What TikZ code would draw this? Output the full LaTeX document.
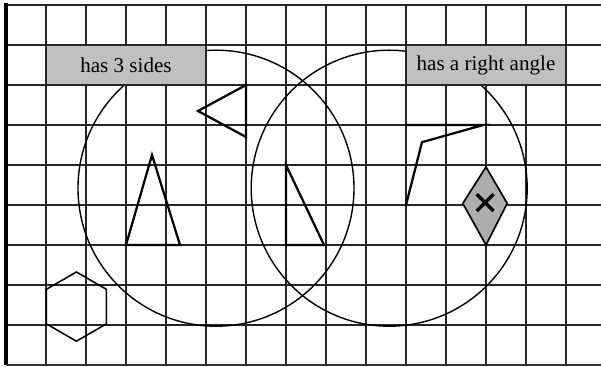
\documentclass[tikz,border=0pt]{standalone}
\usepackage{fontspec}
\setmainfont{Liberation Serif}
\begin{document}
\begin{tikzpicture}[x=1cm,y=1cm,
  every node/.style={font=\fontsize{15}{18}\selectfont},
  gridline/.style={line width=1.3pt,black!85},
  ring/.style={line width=1pt},
  figure/.style={line width=1.6pt,line join=miter},
  tag/.style={draw=black!85,line width=1.3pt,fill=black!25,minimum width=4cm,minimum height=1cm,inner sep=0pt}]
  \useasboundingbox (-0.15,-0.05) rectangle (14.875,9.125);
  % squared paper
  \foreach \x in {0,...,14} \draw[gridline] (\x,0) -- (\x,9);
  \foreach \y in {0,...,9} \draw[gridline] (0,\y) -- (14.875,\y);
  \draw[line width=2.2pt] (0,0) -- (0,9.05);
  \draw[line width=2pt,black!80] (0,0) -- (14.875,0);
  % the two sets
  \draw[ring] (5.25,4.42) circle (3.45);
  \draw[ring] (9.58,4.42) circle (3.45);
  % shapes
  \draw[figure] (4.8,6.35) -- (6,7) -- (6,5.7) -- cycle;
  \draw[figure] (3,3) -- (4.35,3) -- (3.65,5.25) -- cycle;
  \draw[figure] (7,5) -- (7,3) -- (7.95,3) -- cycle;
  \draw[figure] (10,6) -- (11.93,6) -- (10.4,5.57) -- (10,4);
  \draw[figure,line width=1.2pt,fill=black!32] (12,4.95) -- (12.53,4.04) -- (12,3) -- (11.42,4.04) -- cycle;
  \draw[line width=2.4pt] (11.77,3.85) -- (12.19,4.27) (11.77,4.27) -- (12.19,3.85);
  \draw[line width=1.1pt] (1.76,1.46) +(90:0.865) -- +(150:0.865) -- +(210:0.865) -- +(270:0.865) -- +(330:0.865) -- +(30:0.865) -- cycle;
  % labels
  \node[tag] (sides) at (3,7.5) {has 3 sides};
  \node[tag] (rightangle) at (12,7.5) {has a right angle};
\end{tikzpicture}
\end{document}
